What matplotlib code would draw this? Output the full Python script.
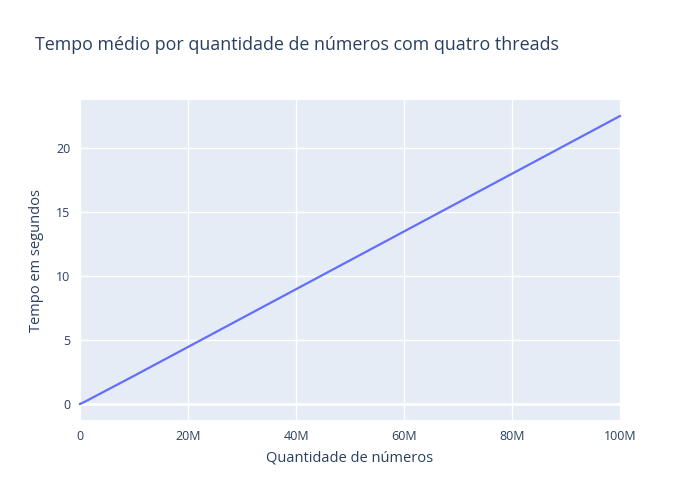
import matplotlib
matplotlib.use("Agg")
import matplotlib.pyplot as plt
from matplotlib.ticker import FuncFormatter

# quantidade de números e tempo médio (s)
quantidade = [10, 100, 1000, 10000, 100000, 1000000, 10000000, 100000000]
tempo = [0.0, 0.0, 0.001, 0.003, 0.02, 0.2, 2.2, 22.5]

xticks = [0, 20e6, 40e6, 60e6, 80e6, 100e6]
yticks = [0, 5, 10, 15, 20]

texto = "#2a3f5f"
plt.rcParams['font.family'] = ['Open Sans', 'DejaVu Sans']

fig = plt.figure(figsize=(7, 5), dpi=100)
ax = fig.add_axes([80/700, 80/500, 540/700, 320/500])
ax.set_facecolor("#E5ECF6")

ax.plot(quantidade, tempo, color="#636EFA", lw=1.6, zorder=3, clip_on=False)

ax.set_xlim(0, 100e6)
ax.set_ylim(-1.25, 23.75)
ax.set_xticks(xticks)
ax.set_yticks(yticks)
ax.xaxis.set_major_formatter(FuncFormatter(lambda v, p: "0" if v == 0 else "%dM" % (v / 1e6)))
ax.grid(True, color="white", lw=1, zorder=1)
ax.axhline(0, color="white", lw=2, zorder=2)
ax.set_axisbelow(True)
for s in ax.spines.values():
    s.set_visible(False)
ax.tick_params(length=0, labelsize=9, labelcolor=texto, pad=7)

ax.set_xlabel("Quantidade de números", fontsize=10.5, color=texto, labelpad=5.5)
ax.set_ylabel("Tempo em segundos", fontsize=10.5, color=texto, labelpad=8.5)
fig.text(35/700, 1 - 45/500, "Tempo médio por quantidade de números com quatro threads",
         fontsize=12.9, color=texto, va="center", ha="left")

fig.savefig("out.png", dpi=100)
